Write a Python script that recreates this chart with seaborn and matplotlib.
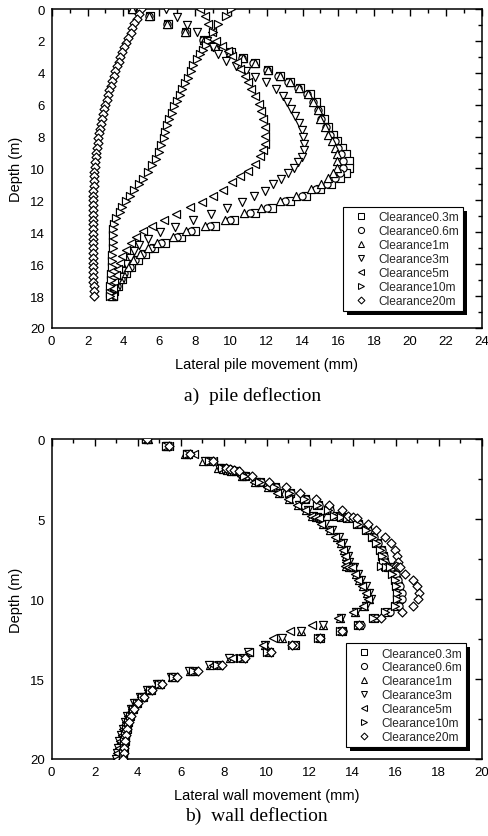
import matplotlib
matplotlib.use("Agg")
import matplotlib.pyplot as plt
from matplotlib.lines import Line2D
from matplotlib.patches import Rectangle
from matplotlib.ticker import MultipleLocator
import seaborn as sns

sns.set_theme(style="white")
plt.rcParams["font.family"] = ["Liberation Sans", "DejaVu Sans"]

LABELS = ["Clearance0.3m", "Clearance0.6m", "Clearance1m", "Clearance3m",
          "Clearance5m", "Clearance10m", "Clearance20m"]
MARKERS = ["s", "o", "^", "v", "<", ">", "D"]
SIZES = [28, 27, 34, 34, 34, 34, 21]

# ---------------- a) pile deflection: depth (m) and lateral movement (mm)
D_NEAR = [0.0, 0.45, 0.95, 1.45, 1.95, 2.3, 2.67, 3.05, 3.4, 3.8, 4.18, 4.6,
          4.95, 5.35, 5.85, 6.35, 6.9, 7.4, 7.9, 8.3, 8.7, 9.1, 9.55, 9.95,
          10.3, 10.6, 10.95, 11.3, 11.7, 12.05, 12.45, 12.8, 13.2, 13.6,
          13.95, 14.3, 14.65, 15.0, 15.35, 15.75, 16.15, 16.55, 16.95, 17.35,
          17.7, 18.0]
PILE_03 = [4.5, 5.5, 6.5, 7.5, 8.5, 9.1, 10.0, 10.7, 11.35, 12.1, 12.75, 13.3,
           13.85, 14.4, 14.75, 15.0, 15.2, 15.45, 15.7, 15.95, 16.2, 16.45,
           16.6, 16.6, 16.45, 16.1, 15.6, 15.0, 14.2, 13.3, 12.3, 11.35, 10.2,
           9.1, 8.0, 7.2, 6.3, 5.7, 5.2, 4.8, 4.45, 4.15, 3.9, 3.7, 3.5, 3.4]
PILE_06 = [4.5, 5.45, 6.45, 7.45, 8.45, 9.05, 9.9, 10.6, 11.25, 12.0, 12.65,
           13.2, 13.75, 14.25, 14.6, 14.85, 15.05, 15.3, 15.55, 15.8, 16.0,
           16.15, 16.25, 16.25, 16.1, 15.8, 15.35, 14.75, 13.95, 13.05, 12.0,
           11.05, 9.95, 8.85, 7.8, 7.0, 6.1, 5.55, 5.05, 4.65, 4.35, 4.05,
           3.85, 3.65, 3.5, 3.4]
PILE_1 = [4.5, 5.45, 6.45, 7.45, 8.5, 9.1, 9.95, 10.7, 11.35, 12.1, 12.75,
          13.3, 13.8, 14.3, 14.6, 14.85, 15.0, 15.25, 15.45, 15.65, 15.8, 15.9,
          15.95, 15.9, 15.7, 15.45, 15.05, 14.45, 13.65, 12.75, 11.7, 10.75,
          9.65, 8.55, 7.5, 6.75, 5.9, 5.4, 4.95, 4.55, 4.25, 4.0, 3.8, 3.6,
          3.45, 3.35]

D_3 = [0.0, 0.48, 0.98, 1.46, 1.98, 2.4, 2.82, 3.24, 3.55, 3.87, 4.28, 4.6,
       5.02, 5.45, 5.85, 6.25, 6.7, 7.15, 7.6, 8.05, 8.45, 8.85, 9.25, 9.6,
       9.95, 10.3, 10.65, 11.0, 11.4, 11.75, 12.1, 12.5, 12.85, 13.25, 13.65,
       14.0, 14.4, 14.8, 15.2, 15.6, 16.0, 16.4, 16.8, 17.2, 17.6, 18.0]
PILE_3 = [6.4, 7.0, 7.55, 8.1, 8.65, 9.0, 9.3, 9.75, 10.3, 10.85, 11.35, 11.95,
          12.5, 12.9, 13.15, 13.35, 13.6, 13.8, 13.95, 14.05, 14.1, 14.1,
          13.95, 13.75, 13.55, 13.2, 12.8, 12.35, 11.9, 11.3, 10.65, 9.8, 8.9,
          7.9, 6.9, 6.05, 5.4, 4.9, 4.6, 4.35, 4.15, 3.95, 3.8, 3.65, 3.5, 3.4]

D_5 = [0.0, 0.45, 0.95, 1.45, 1.98, 2.3, 2.61, 2.92, 3.34, 3.76, 4.18, 4.6,
       5.02, 5.43, 5.96, 6.37, 6.9, 7.42, 7.94, 8.46, 8.85, 9.2, 9.72, 10.14,
       10.45, 10.87, 11.33, 11.7, 12.08, 12.43, 12.85, 13.21, 13.62, 13.95,
       14.3, 14.7, 15.1, 15.5, 15.9, 16.3, 16.7, 17.1, 17.5, 18.0]
PILE_5 = [8.3, 8.55, 8.75, 8.95, 9.15, 9.5, 9.85, 10.05, 10.35, 10.5, 10.8,
          10.95, 11.15, 11.35, 11.55, 11.7, 11.8, 11.9, 11.9, 11.9, 11.8, 11.6,
          11.35, 10.95, 10.5, 10.05, 9.55, 9.0, 8.4, 7.7, 6.95, 6.25, 5.6, 5.1,
          4.7, 4.4, 4.15, 3.95, 3.8, 3.7, 3.6, 3.5, 3.45, 3.4]

D_10 = [0.0, 0.42, 0.94, 1.46, 1.98, 2.25, 2.55, 2.85, 3.15, 3.5, 3.9, 4.3,
        4.65, 5.0, 5.4, 5.75, 6.1, 6.5, 6.9, 7.3, 7.7, 8.1, 8.55, 8.95, 9.4,
        9.8, 10.2, 10.65, 11.0, 11.35, 11.7, 12.05, 12.4, 12.75, 13.1, 13.45,
        13.8, 14.2, 14.6, 15.0, 15.4, 15.8, 16.2, 16.6, 17.0, 17.4, 17.8, 18.0]
PILE_10 = [10.0, 9.75, 9.3, 9.0, 8.7, 8.6, 8.45, 8.3, 8.1, 7.9, 7.75, 7.6,
           7.45, 7.3, 7.15, 7.0, 6.85, 6.7, 6.55, 6.42, 6.35, 6.25, 6.1, 6.0,
           5.85, 5.6, 5.35, 5.1, 4.85, 4.6, 4.35, 4.15, 3.95, 3.8, 3.6, 3.5,
           3.45, 3.43, 3.42, 3.4, 3.38, 3.37, 3.35, 3.33, 3.3, 3.28, 3.25, 3.25]

D_20 = [0.0, 0.3, 0.6, 0.9, 1.2, 1.5, 1.8, 2.1, 2.4, 2.7, 3.0, 3.3, 3.6, 3.9,
        4.2, 4.5, 4.8, 5.1, 5.4, 5.7, 6.0, 6.3, 6.6, 6.9, 7.2, 7.5, 7.8, 8.1,
        8.4, 8.7, 9.0, 9.3, 9.6, 9.9, 10.2, 10.5, 10.8, 11.1, 11.4, 11.7, 12.0,
        12.3, 12.6, 12.9, 13.2, 13.5, 13.8, 14.1, 14.4, 14.7, 15.0, 15.3, 15.6,
        15.9, 16.2, 16.5, 16.8, 17.1, 17.4, 17.7, 18.0]
PILE_20 = [5.0, 4.9, 4.75, 4.62, 4.5, 4.4, 4.27, 4.15, 4.03, 3.93, 3.83, 3.73,
           3.65, 3.56, 3.47, 3.38, 3.29, 3.21, 3.13, 3.06, 2.99, 2.93, 2.87,
           2.81, 2.76, 2.71, 2.66, 2.61, 2.57, 2.53, 2.49, 2.46, 2.43, 2.4,
           2.38, 2.36, 2.35, 2.34, 2.33, 2.32, 2.32, 2.31, 2.31, 2.3, 2.3, 2.3,
           2.3, 2.3, 2.3, 2.3, 2.3, 2.3, 2.31, 2.31, 2.32, 2.32, 2.33, 2.33,
           2.34, 2.35, 2.35]

# ---------------- b) wall deflection: depth (m) and lateral movement (mm)
D_WALL = [0.0, 0.42, 0.9, 1.38, 1.8, 1.86, 1.92, 1.98, 2.3, 2.65, 3.0, 3.38,
          3.75, 4.1, 4.45, 4.82, 4.87, 4.92, 5.3, 5.7, 6.1, 6.5, 6.9, 7.3,
          7.65, 7.92, 7.97, 8.02, 8.4, 8.8, 9.2, 9.6, 10.0, 10.4, 10.8, 11.2,
          11.6, 12.0, 12.45, 12.9, 13.3, 13.7, 14.1, 14.5, 14.9, 15.3, 15.7,
          16.1, 16.5, 16.9, 17.3, 17.7, 18.1, 18.5, 18.9, 19.3, 19.65, 20.0]
WALL_03 = [4.4, 5.35, 6.35, 7.35, 7.95, 8.15, 8.35, 8.55, 9.0, 9.7, 10.4, 11.1,
           11.8, 12.4, 12.9, 13.2, 13.5, 13.8, 14.25, 14.65, 14.95, 15.15,
           15.3, 15.4, 15.45, 15.5, 15.65, 15.8, 15.95, 16.0, 16.1, 16.15,
           16.15, 16.0, 15.6, 15.0, 14.3, 13.5, 12.5, 11.3, 10.1, 8.9, 7.8,
           6.6, 5.7, 5.05, 4.6, 4.25, 3.98, 3.8, 3.65, 3.55, 3.48, 3.43, 3.39,
           3.36, 3.33, 3.3]
WALL_06 = [4.45, 5.4, 6.4, 7.4, 8.0, 8.2, 8.4, 8.6, 9.05, 9.75, 10.45, 11.15,
           11.85, 12.45, 12.95, 13.3, 13.6, 13.9, 14.3, 14.7, 15.0, 15.2,
           15.35, 15.45, 15.5, 15.55, 15.7, 15.85, 16.0, 16.1, 16.2, 16.3, 16.3,
           16.15, 15.75, 15.1, 14.4, 13.55, 12.5, 11.3, 10.05, 8.85, 7.75, 6.6,
           5.7, 5.05, 4.6, 4.25, 3.98, 3.8, 3.66, 3.56, 3.49, 3.44, 3.4, 3.37,
           3.35, 3.32]
WALL_1 = [4.5, 5.3, 6.2, 7.05, 7.75, 7.95, 8.15, 8.35, 8.85, 9.45, 10.05,
          10.55, 11.05, 11.45, 11.85, 12.1, 12.3, 12.5, 12.6, 12.95, 13.25,
          13.45, 13.6, 13.7, 13.75, 13.7, 13.85, 14.0, 14.15, 14.3, 14.5,
          14.65, 14.75, 14.55, 14.1, 13.4, 12.6, 11.6, 10.7, 9.9, 9.2, 8.3,
          7.35, 6.45, 5.6, 4.95, 4.5, 4.15, 3.9, 3.7, 3.55, 3.42, 3.32, 3.24,
          3.17, 3.1, 3.04, 3.0]
WALL_3 = [4.5, 5.35, 6.3, 7.15, 7.8, 8.0, 8.2, 8.4, 8.9, 9.5, 10.1, 10.6, 11.1,
          11.5, 11.9, 12.15, 12.35, 12.55, 12.7, 13.05, 13.35, 13.55, 13.7,
          13.8, 13.85, 13.75, 13.9, 14.05, 14.25, 14.4, 14.6, 14.75, 14.85,
          14.6, 14.15, 13.45, 12.6, 11.6, 10.7, 9.9, 9.15, 8.25, 7.3, 6.4,
          5.55, 4.9, 4.45, 4.1, 3.85, 3.67, 3.52, 3.4, 3.3, 3.22, 3.15, 3.08,
          3.02, 2.98]
WALL_5 = [4.45, 5.45, 6.6, 7.5, 7.9, 8.1, 8.3, 8.5, 8.8, 9.4, 10.0, 10.5, 11.0,
          11.4, 11.8, 12.05, 12.25, 12.45, 12.55, 12.9, 13.2, 13.4, 13.55,
          13.65, 13.7, 13.65, 13.8, 13.95, 14.1, 14.25, 14.45, 14.6, 14.7,
          14.5, 14.0, 13.3, 12.1, 11.1, 10.3, 9.85, 9.2, 8.4, 7.5, 6.6, 5.7,
          5.0, 4.5, 4.15, 3.9, 3.72, 3.56, 3.44, 3.34, 3.26, 3.19, 3.12, 3.06,
          3.02]
WALL_10 = [4.4, 5.3, 6.3, 7.3, 7.9, 8.1, 8.3, 8.5, 8.95, 9.65, 10.35, 11.05,
           11.75, 12.35, 12.85, 13.15, 13.45, 13.75, 14.2, 14.6, 14.9, 15.1,
           15.25, 15.35, 15.4, 15.3, 15.55, 15.75, 15.85, 15.95, 16.0, 16.05,
           16.05, 15.95, 15.5, 14.95, 14.25, 13.4, 12.4, 11.2, 10.0, 8.8, 7.7,
           6.55, 5.65, 5.0, 4.55, 4.22, 3.96, 3.78, 3.64, 3.54, 3.47, 3.42,
           3.38, 3.35, 3.32, 3.3]
WALL_20 = [4.45, 5.45, 6.45, 7.5, 8.1, 8.3, 8.5, 8.7, 9.3, 10.1, 10.9, 11.55,
           12.3, 12.9, 13.5, 13.8, 14.0, 14.2, 14.7, 15.1, 15.5, 15.8, 15.95,
           16.05, 16.1, 16.0, 16.1, 16.2, 16.45, 16.8, 17.0, 17.1, 17.05, 16.8,
           16.3, 15.3, 14.3, 13.5, 12.5, 11.2, 10.2, 9.0, 7.9, 6.8, 5.85, 5.15,
           4.65, 4.3, 4.02, 3.82, 3.68, 3.58, 3.5, 3.45, 3.41, 3.38, 3.36, 3.34]

PILE_SERIES = [(D_NEAR, PILE_03), (D_NEAR, PILE_06), (D_NEAR, PILE_1),
               (D_3, PILE_3), (D_5, PILE_5), (D_10, PILE_10), (D_20, PILE_20)]
WALL_SERIES = [(D_WALL, WALL_03), (D_WALL, WALL_06), (D_WALL, WALL_1),
               (D_WALL, WALL_3), (D_WALL, WALL_5), (D_WALL, WALL_10),
               (D_WALL, WALL_20)]

fig = plt.figure(figsize=(4.89, 8.37), dpi=100)
ax_pile = fig.add_axes([0.1057, 0.607, 0.8793, 0.381])
ax_wall = fig.add_axes([0.1057, 0.092, 0.8793, 0.382])


def draw_panel(ax, series, xmax, ymajor, yminor, xlabel):
    for (depth, move), marker, size in zip(series, MARKERS, SIZES):
        sns.scatterplot(x=move, y=depth, marker=marker, s=size, color="white",
                        edgecolor="black", linewidth=0.85, ax=ax,
                        legend=False, zorder=3)
    ax.set_xlim(0, xmax)
    ax.set_ylim(20, 0)
    ax.xaxis.set_major_locator(MultipleLocator(2))
    ax.xaxis.set_minor_locator(MultipleLocator(1))
    ax.yaxis.set_major_locator(MultipleLocator(ymajor))
    ax.yaxis.set_minor_locator(MultipleLocator(yminor))
    ax.tick_params(which="both", direction="in", top=True, right=True,
                   colors="black", width=1.0, labelsize=9.5)
    ax.tick_params(which="major", length=5)
    ax.tick_params(which="minor", length=3)
    ax.tick_params(axis="x", pad=5)
    ax.tick_params(axis="y", pad=5)
    for sp in ax.spines.values():
        sp.set_color("black")
        sp.set_linewidth(1.1)
    ax.set_xlabel(xlabel, fontsize=10.5, labelpad=7, color="black")
    ax.set_ylabel("Depth (m)", fontsize=10.5, labelpad=5, color="black")


def add_legend(ax, anchor):
    handles = [Line2D([], [], marker=m, linestyle="none", markerfacecolor="white",
                      markeredgecolor="black", markeredgewidth=0.75,
                      markersize=(3.5 if m == "D" else 4.4))
               for m in MARKERS]
    leg = ax.legend(handles, LABELS, loc="lower right", bbox_to_anchor=anchor,
                    frameon=True, fancybox=False, framealpha=1,
                    edgecolor="black", fontsize=8.6, handlelength=2.3,
                    handletextpad=0.3, labelspacing=0.16, borderpad=0.35,
                    borderaxespad=0.0)
    leg.get_frame().set_linewidth(0.8)
    return leg


draw_panel(ax_pile, PILE_SERIES, 24, 2, 1, "Lateral pile movement (mm)")
draw_panel(ax_wall, WALL_SERIES, 20, 5, 2.5, "Lateral wall movement (mm)")
legs = [(ax_pile, add_legend(ax_pile, (0.957, 0.053))),
        (ax_wall, add_legend(ax_wall, (0.9635, 0.037)))]

# drop shadow behind each legend box
fig.canvas.draw()
for ax, leg in legs:
    bb = leg.get_window_extent()
    inv = ax.transAxes.inverted()
    (x0, y0) = inv.transform((bb.x0 + 4, bb.y0 - 4))
    (x1, y1) = inv.transform((bb.x1 + 4, bb.y1 - 4))
    ax.add_patch(Rectangle((x0, y0), x1 - x0, y1 - y0, transform=ax.transAxes,
                           facecolor="black", edgecolor="none", clip_on=False,
                           zorder=leg.get_zorder() - 0.1))

serif = ["Liberation Serif", "DejaVu Serif"]
fig.text(0.517, 0.527, "a)  pile deflection", ha="center", va="center",
         family=serif, fontsize=14, color="black")
fig.text(0.5235, 0.0245, "b)  wall deflection", ha="center", va="center",
         family=serif, fontsize=14, color="black")

fig.savefig("out.png", dpi=100, facecolor="white")
